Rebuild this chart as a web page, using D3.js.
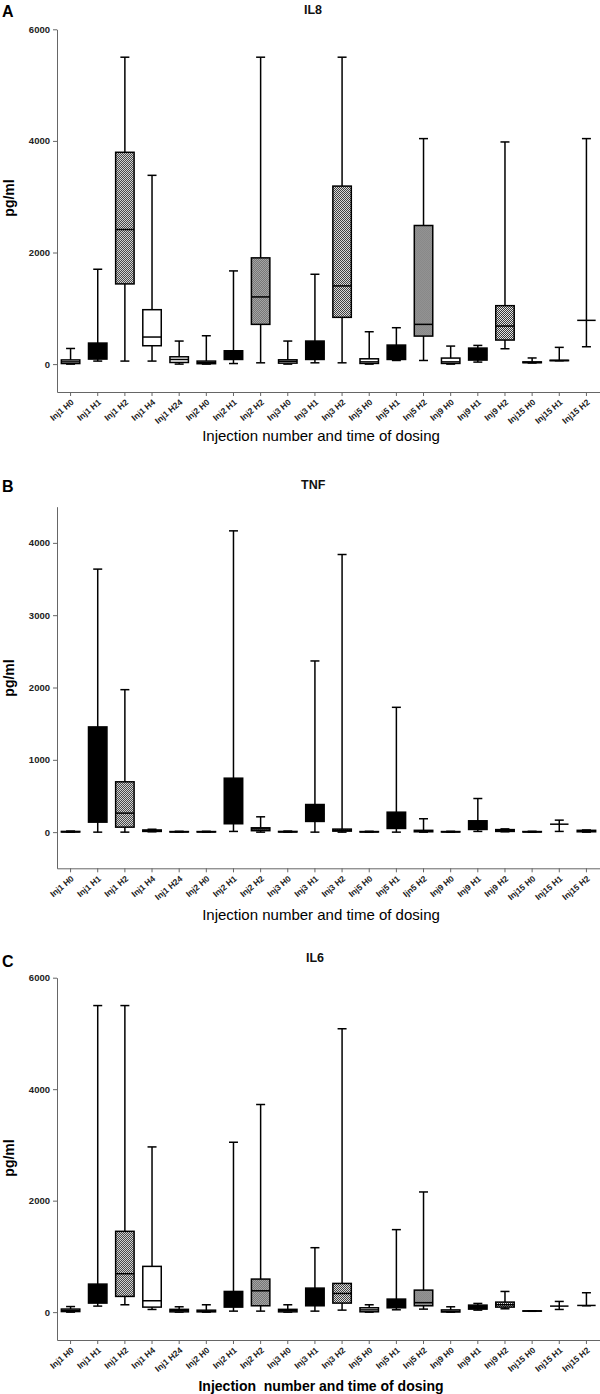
<!DOCTYPE html>
<html><head><meta charset="utf-8">
<script src="https://cdn.jsdelivr.net/npm/d3@7/dist/d3.min.js"></script>
<style>body{margin:0;background:#fff}svg{display:block}</style>
</head><body>
<script>
// ---------- DATA ----------
const labelsA = ["Inj1 H0","Inj1 H1","Inj1 H2","Inj1 H4","Inj1 H24","Inj2 H0","Inj2 H1","Inj2 H2","Inj3 H0","Inj3 H1","Inj3 H2","Inj5 H0","Inj5 H1","Inj5 H2","Inj9 H0","Inj9 H1","Inj9 H2","Inj15 H0","Inj15 H1","Inj15 H2"];
const labelsB = ["Inj1 H0","Inj1 H1","Inj1 H2","Inj1 H4","Inj1 H24","Inj2 H0","Inj2 H1","Inj2 H2","Inj3 H0","Inj3 H1","Inj3 H2","Inj5 H0","Inj5 H1","Ijn5 H2","Inj9 H0","Inj9 H1","Inj9 H2","Inj15 H0","Inj15 H1","Inj15 H2"];
const labelsC = labelsA;
// fill type per category: w = white, k = black, p = dotted pattern
const fillTypes = ["w","k","p","w","w","w","k","p","w","k","p","w","k","p","w","k","p","w","k","p"];
// each row: [min, q1, median, q3, max]  (pg/ml)
const il8Stats = [
  [0,10,40,75,280],[54,90,200,377,1700],[54,1437,2412,3796,5500],[54,329,485,975,3383],[0,29,83,131,413],
  [0,7,30,54,508],[10,83,150,239,1670],[23,712,1204,1904,5500],
  [0,17,50,77,413],[23,83,200,413,1610],[23,838,1401,3190,5500],
  [0,12,40,95,580],[65,83,200,341,652],[65,502,712,2484,4041],
  [0,12,40,108,323],[36,72,150,287,335],[275,431,682,1047,3981],
  [20,25,30,40,110],[60,62,65,68,300],[311,784,784,784,4041]
];
const tnfStats = [
  [0,2,5,10,15],[0,138,700,1455,3637],[0,69,263,696,1970],[5,10,20,30,40],[0,2,4,8,12],
  [0,2,4,8,12],[10,116,400,746,4166],[0,20,45,60,212],
  [0,2,5,10,15],[0,148,250,382,2367],[0,14,25,42,3839],
  [0,2,4,8,12],[0,51,150,276,1726],[0,5,15,25,185],
  [0,2,4,8,12],[10,37,80,157,465],[5,10,20,35,45],
  [0,2,4,8,12],[10,110,110,110,166],[0,5,12,25,30]
];
const il6Stats = [
  [0,10,30,55,100],[108,162,300,503,5500],[132,282,689,1450,5500],[48,90,204,821,2964],[0,5,25,50,96],
  [0,5,15,35,132],[18,90,200,371,3048],[18,114,383,593,3725],
  [0,5,25,50,132],[18,114,250,431,1156],[36,162,335,515,5084],
  [0,6,40,78,132],[42,78,150,234,1480],[54,114,170,395,2156],
  [0,2,15,40,96],[36,54,90,126,156],[60,90,132,180,371],
  [15,18,20,22,25],[48,108,108,108,192],[114,120,120,120,348]
];
const yTicksA = [0,2000,4000,6000];
const yTicksB = [0,1000,2000,3000,4000];
const yTicksC = [0,2000,4000,6000];
const yDomainA = [-500,6000];
const yDomainB = [-500,4500];
const yDomainC = [-500,6000];

// ---------- LAYOUT ----------
const W = 600, H = 1394;
const FONT = "'Liberation Sans', Arial, Helvetica, sans-serif";
const svg = d3.select("body").append("svg").attr("width", W).attr("height", H)
  .style("font-family", FONT);

const defs = svg.append("defs");
const pat = defs.append("pattern").attr("id","dots").attr("patternUnits","userSpaceOnUse")
  .attr("width",2).attr("height",2);
pat.append("rect").attr("width",2).attr("height",2).attr("fill","#e8e8e8");
pat.append("rect").attr("width",1).attr("height",1).attr("fill","#333");
pat.append("rect").attr("x",1).attr("y",1).attr("width",1).attr("height",1).attr("fill","#333");

const panels = [
  {letter:"A", title:"IL8", labels:labelsA, stats:il8Stats, domain:yDomainA, ticks:yTicksA,
   top:29.3, bottom:392, letterY:17, titleX:304, titleY:14, ylabY:198, xtitleY:441,
   xtitle:"Injection number and time of dosing", xtitleWeight:"normal", xtitleSize:15},
  {letter:"B", title:"TNF", labels:labelsB, stats:tnfStats, domain:yDomainB, ticks:yTicksB,
   top:506.7, bottom:868.3, letterY:492, titleX:301, titleY:489, ylabY:678, xtitleY:920,
   xtitle:"Injection number and time of dosing", xtitleWeight:"normal", xtitleSize:15},
  {letter:"C", title:"IL6", labels:labelsC, stats:il6Stats, domain:yDomainC, ticks:yTicksC,
   top:977.7, bottom:1340, letterY:967, titleX:306, titleY:962, ylabY:1158, xtitleY:1391,
   xtitle:"Injection  number and time of dosing", xtitleWeight:"bold", xtitleSize:14}
];

const fillOf = t => t === "k" ? "#000" : (t === "p" ? "url(#dots)" : "#fff");

panels.forEach(p => {
  const g = svg.append("g");
  const x = d3.scaleBand().domain(d3.range(p.labels.length)).range([57, 600])
    .paddingInner(0.32).paddingOuter(0.16);
  const y = d3.scaleLinear().domain(p.domain).range([p.bottom, p.top]);
  const bw = x.bandwidth();
  const capW = 9;

  // axes
  const ya = g.append("g").attr("transform","translate(57,0)")
    .call(d3.axisLeft(y).tickValues(p.ticks).tickSize(4).tickSizeOuter(0).tickPadding(3).tickFormat(d3.format("d")));
  ya.select(".domain").attr("stroke","#666");
  ya.selectAll(".tick line").attr("stroke","#666");
  ya.selectAll(".tick text").attr("font-size",9.5).attr("font-weight","bold").attr("fill","#222")
    .attr("font-family", FONT);

  const xa = g.append("g").attr("transform",`translate(0,${p.bottom})`)
    .call(d3.axisBottom(x).tickSize(4).tickSizeOuter(0).tickFormat(i => p.labels[i]));
  xa.select(".domain").attr("stroke","#666");
  xa.selectAll(".tick line").attr("stroke","#666");
  xa.selectAll(".tick text").attr("font-size",8.5).attr("font-weight","bold").attr("fill","#222")
    .attr("font-family", FONT)
    .attr("text-anchor","end").attr("x",0).attr("y",0).attr("dy","0.35em")
    .attr("transform","translate(2,9) rotate(-40)");

  // boxes
  const bx = g.selectAll(".box").data(p.stats).join("g").attr("class","box")
    .attr("transform",(d,i)=>`translate(${x(i)+bw/2},0)`);
  bx.append("line").attr("x1",0).attr("x2",0)
    .attr("y1",d=>y(d[0])).attr("y2",d=>y(d[4])).attr("stroke","#000").attr("stroke-width",1.5);
  bx.append("line").attr("x1",-capW/2).attr("x2",capW/2)
    .attr("y1",d=>y(d[4])).attr("y2",d=>y(d[4])).attr("stroke","#000").attr("stroke-width",1.5);
  bx.append("line").attr("x1",-capW/2).attr("x2",capW/2)
    .attr("y1",d=>y(d[0])).attr("y2",d=>y(d[0])).attr("stroke","#000").attr("stroke-width",1.5);
  bx.append("rect").attr("x",-bw/2).attr("width",bw)
    .attr("y",d=>y(d[3])).attr("height",d=>Math.max(0, y(d[1])-y(d[3])))
    .attr("fill",(d,i)=>fillOf(fillTypes[i])).attr("stroke","#000").attr("stroke-width",1.5);
  bx.append("line").attr("x1",-bw/2).attr("x2",bw/2)
    .attr("y1",d=>y(d[2])).attr("y2",d=>y(d[2])).attr("stroke","#000").attr("stroke-width",1.5);

  // texts
  svg.append("text").attr("x",2).attr("y",p.letterY).attr("font-size",16).attr("font-weight","bold")
    .attr("fill","#000").text(p.letter);
  svg.append("text").attr("x",p.titleX).attr("y",p.titleY).attr("font-size",12.5).attr("font-weight","bold")
    .attr("fill","#111").text(p.title);
  svg.append("text").attr("transform",`translate(14,${p.ylabY}) rotate(-90)`).attr("text-anchor","middle")
    .attr("font-size",14).attr("font-weight","bold").attr("fill","#000").text("pg/ml");
  svg.append("text").attr("x",321).attr("y",p.xtitleY).attr("text-anchor","middle")
    .attr("font-size",p.xtitleSize).attr("font-weight",p.xtitleWeight).attr("fill","#000")
    .style("white-space","pre").attr("xml:space","preserve").text(p.xtitle);
});
</script>
</body></html>
